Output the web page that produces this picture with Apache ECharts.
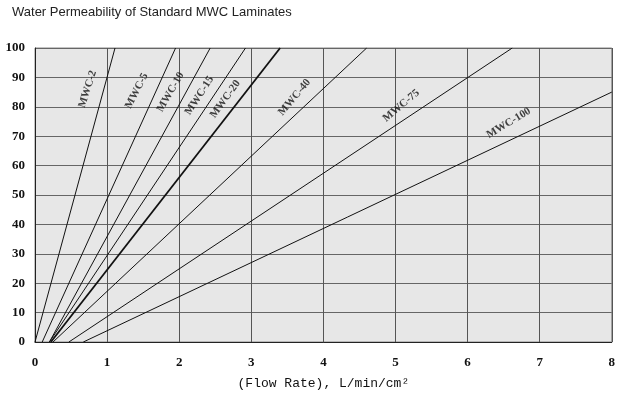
<!DOCTYPE html>
<html>
<head>
<meta charset="utf-8">
<script src="https://cdn.jsdelivr.net/npm/echarts@6/dist/echarts.min.js"></script>
<style>html,body{margin:0;padding:0;background:#fff;}#c{width:618px;height:396px;}</style>
</head>
<body>
<div id="c"></div>
<script>
const seriesNames = ['MWC-2','MWC-5','MWC-10','MWC-15','MWC-20','MWC-40','MWC-75','MWC-100'];
const startX = [0, 0.1, 0.2, 0.2, 0.22, 0.25, 0.47, 0.67];
const startY = [0, 0, 0, 0, 0, 0, 0, 0];
const endX = [1.11, 1.95, 2.43, 2.92, 3.4, 4.6, 6.62, 8];
const endY = [100, 100, 100, 100, 100, 100, 100, 85];
const labelX = [0.73, 1.41, 1.88, 2.28, 2.64, 3.6, 5.08, 6.57];
const labelY = [86, 85.4, 85, 83.8, 82.6, 83.2, 80.4, 74.5];
const labelAngle = [72, 63, 60, 57, 54, 50, 40, 31];
const xTicks = [0,1,2,3,4,5,6,7,8];
const yTicks = [0,10,20,30,40,50,60,70,80,90,100];

const chart = echarts.init(document.getElementById('c'), null, {renderer:'canvas'});
const lineSeries = seriesNames.map((n,i)=>({
  type:'line', name:n, data:[[startX[i],startY[i]],[endX[i],endY[i]]],
  symbol:'none', silent:true,
  lineStyle:{color:'#111', width: n==='MWC-20'?1.8:1}
}));
const labelSeries = {
  type:'scatter', symbolSize:0, silent:true,
  data: seriesNames.map((n,i)=>({value:[labelX[i],labelY[i]], name:n,
    label:{show:true, formatter:n, rotate:labelAngle[i], position:'inside',
      fontFamily:'Liberation Serif', fontWeight:'bold', fontSize:11, color:'#111'}}))
};
chart.setOption({
  animation:false,
  backgroundColor:'#fff',
  title:{text:'Water Permeability of Standard MWC Laminates', left:12, top:6, padding:0,
    textStyle:{fontFamily:'Liberation Sans', fontSize:13, fontWeight:'normal', color:'#222'}},
  grid:{left:35, right:5, top:48, bottom:54, show:true, backgroundColor:'#e7e7e7', borderColor:'#888', borderWidth:1},
  xAxis:{type:'value', min:0, max:8, interval:1,
    name:'(Flow Rate), L/min/cm²', nameLocation:'middle', nameGap:35,
    nameTextStyle:{fontFamily:'Liberation Mono', fontSize:13, color:'#111'},
    axisLine:{lineStyle:{color:'#222'}}, axisTick:{show:false},
    axisLabel:{margin:14, fontFamily:'Liberation Serif', fontWeight:'bold', fontSize:13, color:'#111',
      formatter:v=>xTicks.includes(v)?String(v):''},
    splitLine:{show:true, lineStyle:{color:'#555', width:1}}},
  yAxis:{type:'value', min:0, max:100, interval:10,
    axisLine:{show:true, lineStyle:{color:'#222'}}, axisTick:{show:false},
    axisLabel:{margin:10, fontFamily:'Liberation Serif', fontWeight:'bold', fontSize:13, color:'#111',
      formatter:v=>yTicks.includes(v)?String(v):''},
    splitLine:{show:true, lineStyle:{color:'#666', width:1}}},
  series:[...lineSeries, labelSeries]
});
</script>
</body>
</html>
